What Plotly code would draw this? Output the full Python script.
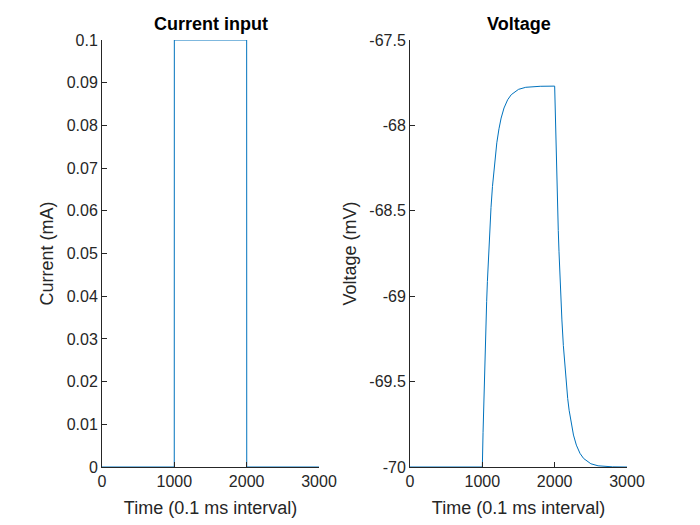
import plotly.graph_objects as go
from plotly.subplots import make_subplots

# current step (mA) against time step (0.1 ms)
time_current = [0, 999, 1000, 2000, 2001, 3000]
current_ma = [0, 0, 0.1, 0.1, 0, 0]

# membrane voltage (mV)
time_voltage = [0, 1000, 1010, 1020, 1030, 1040, 1050, 1060, 1070, 1080, 1090, 1100,
                1120, 1140, 1160, 1180, 1200, 1230, 1260, 1300, 1350, 1400, 1500,
                1600, 1800, 2000, 2010, 2020, 2030, 2040, 2050, 2060, 2070, 2080,
                2090, 2100, 2120, 2140, 2160, 2180, 2200, 2230, 2260, 2300, 2350,
                2400, 2500, 2600, 2800, 3000]
voltage_mv = [-70.0, -70.0, -69.797, -69.614, -69.445, -69.293, -69.155, -69.030,
              -68.914, -68.811, -68.716, -68.631, -68.481, -68.358, -68.256, -68.171,
              -68.102, -68.020, -67.957, -67.898, -67.850, -67.820, -67.789, -67.777,
              -67.771, -67.770, -67.973, -68.156, -68.325, -68.477, -68.615, -68.740,
              -68.856, -68.959, -69.054, -69.139, -69.289, -69.412, -69.514, -69.599,
              -69.668, -69.750, -69.813, -69.872, -69.920, -69.950, -69.981, -69.993,
              -69.999, -70.0]

x_ticks = [0, 1000, 2000, 3000]
current_ticks = [0, 0.01, 0.02, 0.03, 0.04, 0.05, 0.06, 0.07, 0.08, 0.09, 0.1]
current_labels = ["0", "0.01", "0.02", "0.03", "0.04", "0.05", "0.06", "0.07", "0.08", "0.09", "0.1"]
voltage_ticks = [-70, -69.5, -69, -68.5, -68, -67.5]
voltage_labels = ["-70", "-69.5", "-69", "-68.5", "-68", "-67.5"]

LINE = "#0072BD"
AX = "#262626"
FONT = "Liberation Sans, Arial, sans-serif"
W, H = 700, 525
PAD = 8  # page body margin


def px_x(p):
    return (p - PAD) / W


def px_y(p):
    return 1 - (p - PAD) / H


fig = make_subplots(rows=1, cols=2)
fig.add_trace(go.Scatter(x=time_current, y=current_ma, mode="lines",
                         line=dict(color=LINE, width=1)), row=1, col=1)
fig.add_trace(go.Scatter(x=time_voltage, y=voltage_mv, mode="lines",
                         line=dict(color=LINE, width=1)), row=1, col=2)

common = dict(showline=True, linecolor=AX, linewidth=1, mirror=False,
              ticks="inside", ticklen=5, tickcolor=AX, showgrid=False,
              zeroline=False, automargin=False,
              tickfont=dict(family=FONT, size=16, color=AX))

fig.update_xaxes(**common, range=[0, 3000], tickvals=x_ticks,
                 title=dict(text="Time (0.1 ms interval)", standoff=12,
                            font=dict(family=FONT, size=18, color=AX)))
fig.update_xaxes(domain=[px_x(102), px_x(319)], row=1, col=1)
fig.update_xaxes(domain=[px_x(410), px_x(627)], row=1, col=2)

fig.update_yaxes(**common, domain=[px_y(467), px_y(40)])
fig.update_yaxes(range=[0, 0.1], tickvals=current_ticks, ticktext=current_labels,
                 title=dict(text="Current (mA)", standoff=8,
                            font=dict(family=FONT, size=18, color=AX)), row=1, col=1)
fig.update_yaxes(range=[-70, -67.5], tickvals=voltage_ticks, ticktext=voltage_labels,
                 title=dict(text="Voltage (mV)", standoff=8,
                            font=dict(family=FONT, size=18, color=AX)), row=1, col=2)

for text, xc in [("Current input", 210.5), ("Voltage", 518.5)]:
    fig.add_annotation(text="<b>%s</b>" % text, x=px_x(xc), y=px_y(24),
                       xref="paper", yref="paper", xanchor="center", yanchor="middle",
                       showarrow=False, font=dict(family=FONT, size=18, color="#000000"))

fig.update_layout(width=W, height=H, showlegend=False,
                  margin=dict(l=0, r=0, t=0, b=0),
                  plot_bgcolor="white", paper_bgcolor="white")

fig.write_html("out.html")
